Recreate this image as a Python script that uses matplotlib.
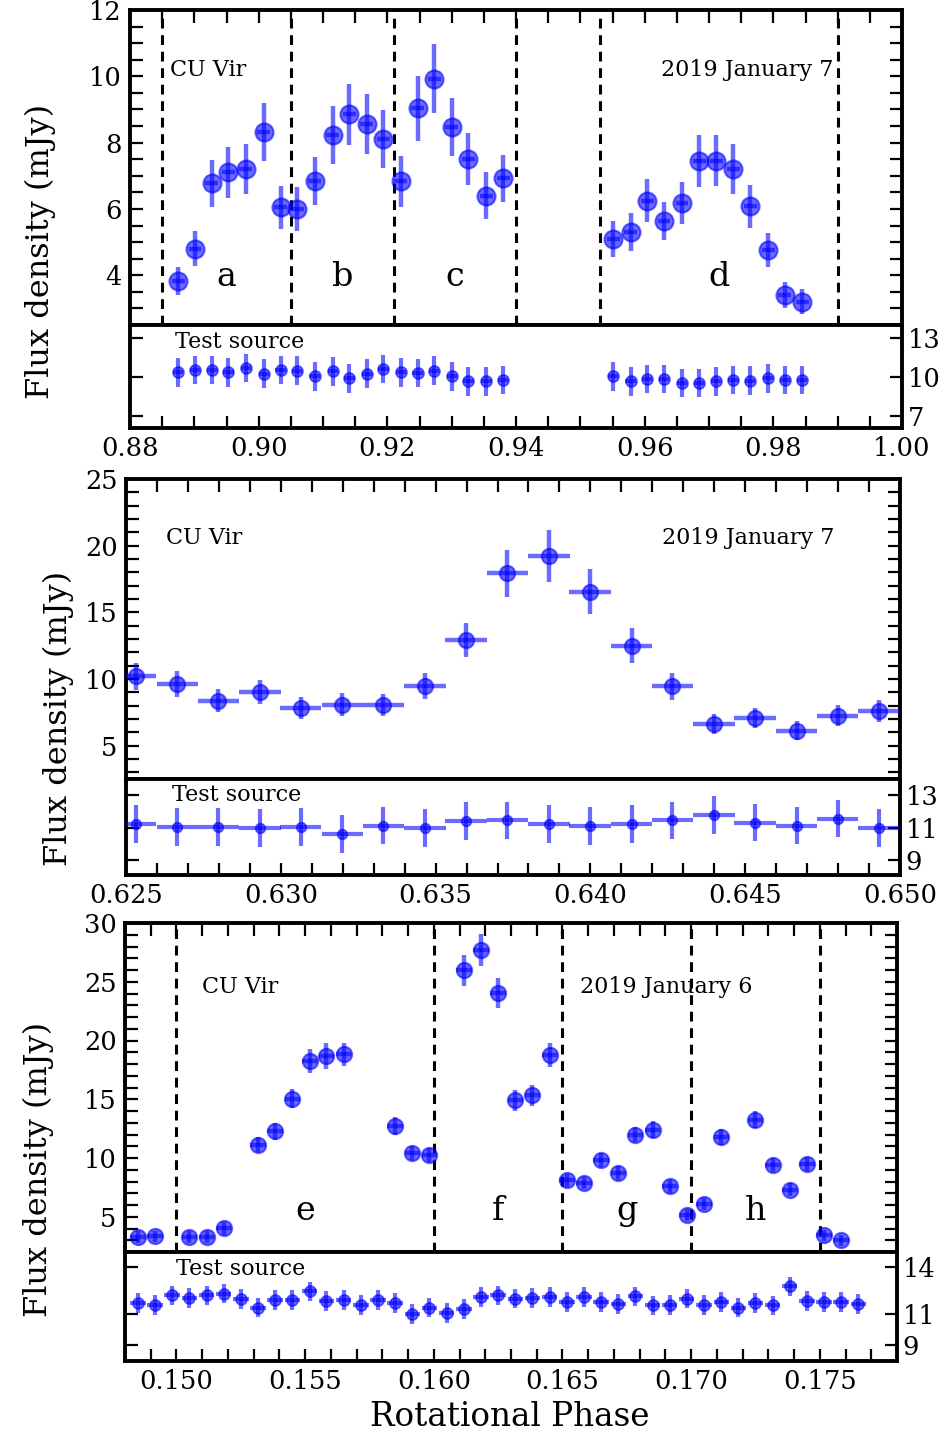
import matplotlib
matplotlib.use("Agg")
import matplotlib.pyplot as plt
from matplotlib.ticker import MultipleLocator, FixedLocator, FormatStrFormatter

plt.rcParams['font.family'] = ['DejaVu Serif']
plt.rcParams['mathtext.fontset'] = 'dejavuserif'

# ---------------- Panel 1 : 2019 January 7 (phase 0.88-1.00) ----------------
p1_phase = [0.8875, 0.8901, 0.8927, 0.8953, 0.8980, 0.9008, 0.9034, 0.9060, 0.9087, 0.9115,
            0.9141, 0.9168, 0.9194, 0.9221, 0.9247, 0.9273, 0.9300, 0.9326, 0.9354, 0.9380,
            0.9551, 0.9578, 0.9604, 0.9630, 0.9658, 0.9685, 0.9711, 0.9738, 0.9764, 0.9792,
            0.9818, 0.9845]
p1_flux = [3.83, 4.80, 6.77, 7.10, 7.20, 8.32, 6.05, 6.00, 6.85, 8.23,
           8.85, 8.57, 8.10, 6.83, 9.03, 9.93, 8.48, 7.50, 6.40, 6.92,
           5.10, 5.30, 6.25, 5.63, 6.18, 7.45, 7.45, 7.20, 6.08, 4.75,
           3.40, 3.20]
p1_err = [0.43, 0.52, 0.72, 0.76, 0.75, 0.87, 0.64, 0.66, 0.72, 0.87,
          0.93, 0.90, 0.88, 0.76, 0.97, 1.05, 0.87, 0.78, 0.70, 0.72,
          0.54, 0.57, 0.65, 0.58, 0.63, 0.78, 0.77, 0.75, 0.65, 0.51,
          0.39, 0.38]
p1_test = [10.38, 10.56, 10.56, 10.36, 10.69, 10.26, 10.56, 10.51, 10.05, 10.44,
           9.92, 10.26, 10.62, 10.36, 10.31, 10.51, 10.05, 9.67, 9.67, 9.79,
           10.05, 9.67, 9.85, 9.85, 9.54, 9.54, 9.67, 9.79, 9.74, 9.92,
           9.79, 9.79]
p1_test_err = [1.1] * 32
p1_vlines = [0.885, 0.905, 0.921, 0.940, 0.953, 0.990]
p1_letters = ['a', 'b', 'c', 'd']
p1_letter_x = [0.8950, 0.9130, 0.9305, 0.9715]

# ---------------- Panel 2 : 2019 January 7 (phase 0.625-0.650) ----------------
p2_phase = [0.62531, 0.62666, 0.62798, 0.62933, 0.63064, 0.63199, 0.63331, 0.63466, 0.63598,
            0.63732, 0.63866, 0.63999, 0.64133, 0.64265, 0.64399, 0.64532, 0.64666, 0.64799,
            0.64932]
p2_flux = [10.20, 9.63, 8.38, 9.00, 7.83, 8.08, 8.05, 9.50, 12.93,
           17.93, 19.25, 16.55, 12.50, 9.45, 6.63, 7.08, 6.13, 7.25, 7.58]
p2_err = [1.00, 0.96, 0.86, 0.90, 0.81, 0.84, 0.84, 0.98, 1.30,
          1.78, 1.94, 1.69, 1.31, 1.00, 0.75, 0.75, 0.70, 0.80, 0.81]
p2_test = [11.24, 11.04, 11.04, 11.00, 11.04, 10.63, 11.14, 11.00, 11.41, 11.45,
           11.24, 11.10, 11.24, 11.45, 11.78, 11.31, 11.14, 11.57, 11.00]
p2_test_err = [1.15] * 19

# ---------------- Panel 3 : 2019 January 6 (phase 0.148-0.178) ----------------
p3_phase = [0.14850, 0.14917, 0.15050, 0.15117, 0.15183, 0.15317, 0.15383, 0.15450, 0.15517,
            0.15583, 0.15650, 0.15850, 0.15917, 0.15983, 0.16117, 0.16183, 0.16250, 0.16317,
            0.16383, 0.16450, 0.16517, 0.16583, 0.16650, 0.16717, 0.16783, 0.16850, 0.16917,
            0.16983, 0.17050, 0.17117, 0.17250, 0.17317, 0.17383, 0.17450, 0.17517, 0.17583]
p3_flux = [3.27, 3.32, 3.27, 3.27, 4.03, 11.14, 12.27, 15.06, 18.27,
           18.66, 18.81, 12.73, 10.45, 10.28, 25.97, 27.73, 24.03, 14.91,
           15.34, 18.75, 8.10, 7.87, 9.80, 8.72, 11.99, 12.41, 7.59,
           5.17, 6.11, 11.79, 13.27, 9.43, 7.30, 9.46, 3.41, 2.98]
p3_err = [0.5, 0.5, 0.5, 0.5, 0.55, 0.65, 0.7, 0.82, 1.0,
          1.1, 1.0, 0.8, 0.6, 0.6, 1.3, 1.36, 1.25, 0.9,
          0.9, 1.0, 0.55, 0.55, 0.6, 0.6, 0.65, 0.7, 0.55,
          0.5, 0.5, 0.65, 0.75, 0.6, 0.55, 0.6, 0.5, 0.5]
p3_test_phase = [0.14850, 0.14917, 0.14983, 0.15050, 0.15117, 0.15183, 0.15250, 0.15317,
                 0.15383, 0.15450, 0.15517, 0.15583, 0.15650, 0.15717, 0.15783, 0.15850,
                 0.15917, 0.15983, 0.16050, 0.16117, 0.16183, 0.16250, 0.16317, 0.16383,
                 0.16450, 0.16517, 0.16583, 0.16650, 0.16717, 0.16783, 0.16850, 0.16917,
                 0.16983, 0.17050, 0.17117, 0.17183, 0.17250, 0.17317, 0.17383, 0.17450,
                 0.17517, 0.17583, 0.17650]
p3_test = [11.68, 11.57, 12.17, 12.00, 12.17, 12.28, 11.94, 11.40, 11.89, 11.89,
           12.43, 11.83, 11.89, 11.57, 11.89, 11.68, 11.00, 11.40, 11.04, 11.30,
           12.06, 12.17, 11.96, 12.00, 12.06, 11.74, 12.06, 11.74, 11.62, 12.11,
           11.53, 11.57, 11.96, 11.57, 11.74, 11.40, 11.68, 11.53, 12.74, 11.83,
           11.74, 11.74, 11.62]
p3_test_err = [0.62] * 43
p3_vlines = [0.150, 0.160, 0.165, 0.170, 0.175]
p3_letters = ['e', 'f', 'g', 'h']
p3_letter_x = [0.1550, 0.1625, 0.1675, 0.1725]

W, H = 953, 1434
fig = plt.figure(figsize=(W / 100, H / 100), dpi=100)

BLUE = '#0000ff'
TICKFS = 18.5
SPW = 2.8
SMALLFS = 16


def frac(x0, y0, x1, y1):
    return [x0 / W, 1 - y1 / H, (x1 - x0) / W, (y1 - y0) / H]


def style_axis(ax):
    for s in ax.spines.values():
        s.set_linewidth(SPW)
    ax.tick_params(which='both', direction='in', length=9, width=1.6,
                   labelsize=TICKFS, pad=6)


def group(main_box, test_box, xlim, ylim, tylim, phase, flux, err, xerr, ms,
          tphase, tflux, terr, txerr, tms, major, minor, yminor, ymajor, tticks,
          vlines, letters, letter_x, letter_y, cu_xy, date_xy, date_txt, date_ha,
          test_xy, xfmt):
    ax = fig.add_axes(frac(*main_box))
    at = fig.add_axes(frac(*test_box))
    for a in (ax, at):
        style_axis(a)
        a.set_xlim(*xlim)
    ax.set_ylim(*ylim)
    at.set_ylim(*tylim)

    ax.errorbar(phase, flux, yerr=err, xerr=xerr, fmt='o', color=BLUE, ms=ms,
                elinewidth=3.2, capsize=0, alpha=0.58, mec=BLUE, mew=1.5, zorder=3)
    at.errorbar(tphase, tflux, yerr=terr, xerr=txerr, fmt='o', color=BLUE, ms=tms,
                elinewidth=3.0, capsize=0, alpha=0.58, mec=BLUE, mew=1.2, zorder=3)

    for v in vlines:
        ax.axvline(v, color='black', ls=(0, (3.2, 2.2)), lw=2.2, zorder=2)

    # main axis ticks
    ax.xaxis.set_major_locator(MultipleLocator(major))
    ax.xaxis.set_minor_locator(MultipleLocator(minor))
    ax.tick_params(axis='x', which='both', bottom=False, top=True, labelbottom=False)
    ax.yaxis.set_major_locator(MultipleLocator(ymajor))
    ax.yaxis.set_minor_locator(MultipleLocator(yminor))
    ax.tick_params(axis='y', which='both', left=True, right=True)

    # test axis ticks
    at.xaxis.set_major_locator(MultipleLocator(major))
    at.xaxis.set_minor_locator(MultipleLocator(minor))
    at.tick_params(axis='x', which='both', bottom=True, top=False, labelbottom=True)
    at.xaxis.set_major_formatter(xfmt)
    at.yaxis.set_major_locator(FixedLocator(tticks))
    at.yaxis.set_minor_locator(FixedLocator([]))
    at.tick_params(axis='y', which='both', left=True, right=True,
                   labelleft=False, labelright=True, pad=4)

    for L, lx in zip(letters, letter_x):
        ax.text(lx, letter_y, L, fontsize=24, ha='center', va='center')
    ax.text(cu_xy[0], cu_xy[1], 'CU Vir', fontsize=SMALLFS, ha='left', va='center')
    ax.text(date_xy[0], date_xy[1], date_txt, fontsize=SMALLFS, ha=date_ha, va='center')
    at.text(test_xy[0], test_xy[1], 'Test source', fontsize=SMALLFS, ha='left', va='center')
    return ax, at


# Group 1
group((130, 10, 902, 325), (130, 325, 902, 428), (0.88, 1.00), (2.5, 12), (6.1, 14),
      p1_phase, p1_flux, p1_err, 0.001, 13,
      p1_phase, p1_test, p1_test_err, 0.0008, 8,
      0.02, 0.005, 0.5, 2, [7, 10, 13],
      p1_vlines, p1_letters, p1_letter_x, 3.95, (0.8862, 10.2), (0.9893, 10.2),
      '2019 January 7', 'right', (0.887, 12.7), FormatStrFormatter('%.2f'))

# Group 2
group((126, 479, 900, 779), (126, 779, 900, 875), (0.625, 0.650), (2.5, 25), (8.1, 14),
      p2_phase, p2_flux, p2_err, 0.000667, 11,
      p2_phase, p2_test, p2_test_err, 0.000667, 7,
      0.005, 0.001, 1, 5, [9, 11, 13],
      [], [], [], 4, (0.6263, 20.6), (0.6423, 20.6),
      '2019 January 7', 'left', (0.6265, 13.0), FormatStrFormatter('%.3f'))

# Group 3
group((125, 923, 897, 1252), (125, 1252, 897, 1361), (0.148, 0.178), (2, 30),
      (8, 14.93),
      p3_phase, p3_flux, p3_err, 0.0003, 11,
      p3_test_phase, p3_test, p3_test_err, 0.0003, 8,
      0.005, 0.001, 1, 5, [9, 11, 14],
      p3_vlines, p3_letters, p3_letter_x, 5.5, (0.1510, 24.55), (0.1657, 24.55),
      '2019 January 6', 'left', (0.1500, 13.85), FormatStrFormatter('%.3f'))

# y labels & x label
fig.text(40 / W, 1 - 251 / H, 'Flux density (mJy)', rotation=90, fontsize=23,
         ha='center', va='center')
fig.text(58 / W, 1 - 718 / H, 'Flux density (mJy)', rotation=90, fontsize=23,
         ha='center', va='center')
fig.text(38 / W, 1 - 1169 / H, 'Flux density (mJy)', rotation=90, fontsize=23,
         ha='center', va='center')
fig.text(510 / W, 1 - 1417 / H, 'Rotational Phase', fontsize=23.5, ha='center', va='center')

fig.savefig('out.png', dpi=100)
